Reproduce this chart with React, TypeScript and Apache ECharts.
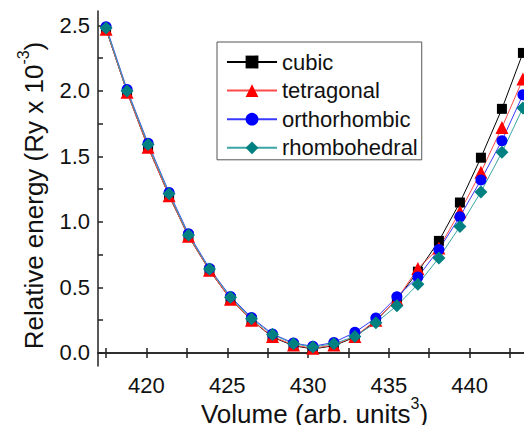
import React, { useEffect, useRef } from "react";
import * as echarts from "echarts";

const volume = [417.5, 418.8, 420.1, 421.4, 422.6, 423.9, 425.2, 426.5, 427.8, 429.1, 430.3, 431.6, 432.9, 434.2, 435.5, 436.8, 438.1, 439.4, 440.7, 442.0, 443.3];
const cubic = [2.47, 1.99, 1.57, 1.2, 0.89, 0.63, 0.41, 0.25, 0.12, 0.055, 0.03, 0.055, 0.12, 0.245, 0.41, 0.62, 0.855, 1.148, 1.49, 1.863, 2.29];
const tetragonal = [2.47, 1.99, 1.57, 1.2, 0.89, 0.63, 0.41, 0.25, 0.125, 0.06, 0.035, 0.06, 0.125, 0.25, 0.41, 0.645, 0.8, 1.078, 1.38, 1.72, 2.09];
const orthorhombic = [2.49, 2.01, 1.6, 1.225, 0.91, 0.645, 0.43, 0.27, 0.145, 0.075, 0.05, 0.08, 0.157, 0.267, 0.428, 0.58, 0.79, 1.04, 1.32, 1.62, 1.97];
const rhombohedral = [2.48, 2.0, 1.59, 1.215, 0.9, 0.64, 0.425, 0.26, 0.14, 0.07, 0.045, 0.07, 0.126, 0.23, 0.36, 0.524, 0.725, 0.965, 1.229, 1.531, 1.87];

const xMajor = [420, 425, 430, 435, 440];
const xAllTicks = [417.5, 420, 422.5, 425, 427.5, 430, 432.5, 435, 437.5, 440, 442.5];
const yMajor = [0, 0.5, 1.0, 1.5, 2.0, 2.5];
const yAllTicks = [0, 0.25, 0.5, 0.75, 1.0, 1.25, 1.5, 1.75, 2.0, 2.25, 2.5];

const FONT = "'Liberation Sans', Arial, sans-serif";
const AX = "#222";

const titleRich = {
  m: { fontSize: 26, lineHeight: 26, verticalAlign: "bottom", color: "#111", fontFamily: FONT },
  sup: { fontSize: 16, lineHeight: 16, verticalAlign: "bottom", padding: [0, 0, 16, 0], color: "#111", fontFamily: FONT },
};

export default function App() {
  const ref = useRef<HTMLDivElement>(null);
  useEffect(() => {
    if (!ref.current) return;
    const chart = echarts.init(ref.current, null, { renderer: "svg" });
    const mk = (name: string, vals: number[], symbol: string, size: number, color: string, lineColor: string) => ({
      name,
      type: "line",
      data: volume.map((v, i) => [v, vals[i]]),
      symbol,
      symbolSize: size,
      showSymbol: true,
      itemStyle: { color, borderWidth: 0 },
      lineStyle: { color: lineColor, width: 1 },
      emphasis: { disabled: true },
    });
    const axLine = { show: true, lineStyle: { color: AX, width: 1.5 } };
    chart.setOption({
      animation: false,
      textStyle: { fontFamily: FONT },
      grid: { left: 98, right: 1, top: 11, bottom: 67, containLabel: false, outerBoundsMode: "none" },
      legend: {
        orient: "vertical",
        left: 217,
        top: 42,
        itemWidth: 50,
        itemHeight: 16,
        itemGap: 6.6,
        padding: [9, 4, 1, 9],
        borderColor: "#555",
        borderWidth: 1,
        textStyle: { fontSize: 22, lineHeight: 22, color: "#111", fontFamily: FONT },
        data: ["cubic", "tetragonal", "orthorhombic", "rhombohedral"],
      },
      xAxis: [
        {
          type: "value",
          position: "bottom",
          min: 417,
          max: 443.8,
          axisLine: axLine,
          axisTick: { show: true, inside: true, length: 5, customValues: xAllTicks, lineStyle: { color: AX, width: 1.5 } },
          axisLabel: { customValues: xMajor, fontSize: 22, color: "#111", margin: 8, fontFamily: FONT },
          splitLine: { show: false },
          name: "{m|Volume (arb. units}{sup|3}{m|)}",
          nameLocation: "middle",
          nameGap: 35,
          nameMoveOverlap: false,
          nameTextStyle: { fontSize: 26, color: "#111", fontFamily: FONT, rich: titleRich },
        },
        {
          type: "value",
          position: "top",
          min: 417,
          max: 443.8,
          axisLine: axLine,
          axisTick: { show: true, inside: true, length: 5, customValues: xAllTicks, lineStyle: { color: AX, width: 1.5 } },
          axisLabel: { show: false },
          splitLine: { show: false },
        },
      ],
      yAxis: [
        {
          type: "value",
          position: "left",
          min: -0.1,
          max: 2.61,
          axisLine: axLine,
          axisTick: { show: true, inside: true, length: 5, customValues: yAllTicks, lineStyle: { color: AX, width: 1.5 } },
          axisLabel: { customValues: yMajor, fontSize: 22, color: "#111", margin: 8, fontFamily: FONT, formatter: (v: number) => v.toFixed(1) },
          splitLine: { show: false },
          name: "{m|Relative energy (Ry x 10}{sup|-3}{m|)}",
          nameLocation: "middle",
          nameGap: 51,
          nameMoveOverlap: false,
          nameTextStyle: { fontSize: 26, color: "#111", fontFamily: FONT, padding: [0, 14, 0, 0], rich: titleRich },
        },
        {
          type: "value",
          position: "right",
          min: -0.1,
          max: 2.61,
          axisLine: axLine,
          axisTick: { show: true, inside: true, length: 5, customValues: yAllTicks, lineStyle: { color: AX, width: 1.5 } },
          axisLabel: { show: false },
          splitLine: { show: false },
        },
      ],
      series: [
        mk("cubic", cubic, "rect", 10, "#000000", "#000000"),
        mk("tetragonal", tetragonal, "triangle", 13, "#ff0000", "#ff4a4a"),
        mk("orthorhombic", orthorhombic, "circle", 11, "#0000ff", "#3a3aff"),
        mk("rhombohedral", rhombohedral, "diamond", 13, "#008080", "#3aa5a5"),
      ],
    });
    return () => chart.dispose();
  }, []);
  return <div ref={ref} style={{ width: 532, height: 433, margin: -8 }} />;
}
